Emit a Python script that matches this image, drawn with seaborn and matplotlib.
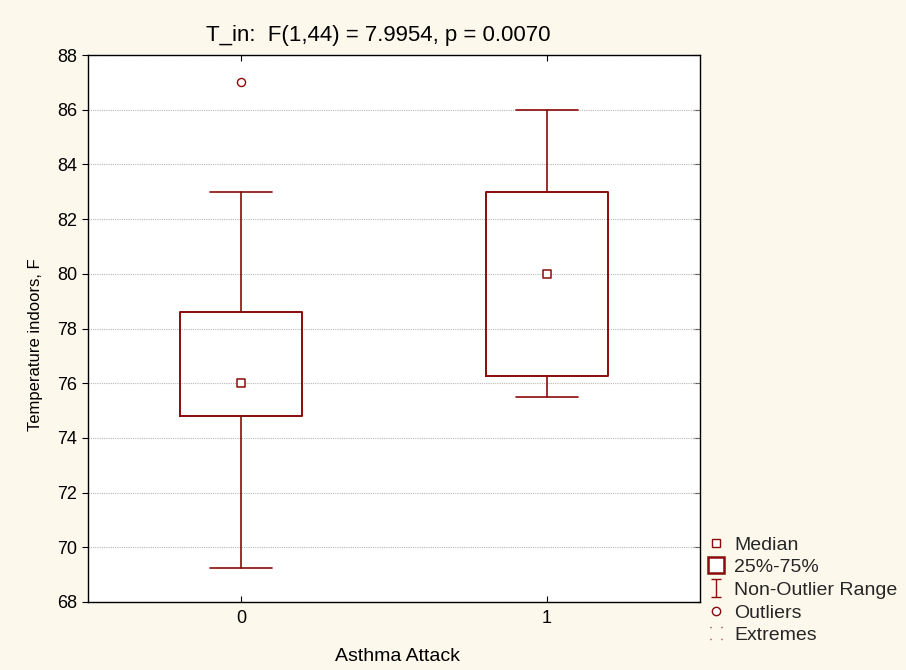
import matplotlib
matplotlib.use("Agg")
import matplotlib.pyplot as plt
import numpy as np
import pandas as pd
import seaborn as sns
from matplotlib.lines import Line2D
from matplotlib.path import Path

# Box-plot summary of indoor temperature by asthma attack group
groups = ["0", "1"]
medians = [76.0, 80.0]
q1 = [74.8, 76.25]
q3 = [78.6, 83.0]
whisker_low = [69.25, 75.5]
whisker_high = [83.0, 86.0]
outlier_group = ["0"]
outlier_values = [87.0]

title = "T_in:  F(1,44) = 7.9954, p = 0.0070"
x_label = "Asthma Attack"
y_label = "Temperature indoors, F"
y_ticks = [68, 70, 72, 74, 76, 78, 80, 82, 84, 86, 88]
legend_labels = ["Median", "25%-75%", "Non-Outlier Range", "Outliers", "Extremes"]

sns.set_theme(style="white")
plt.rcParams["font.family"] = ["Liberation Sans", "DejaVu Sans"]

BG = "#FDF8EC"
RED = "#8B0A0A"

fig = plt.figure(figsize=(9.06, 6.70), dpi=100, facecolor=BG)
W, H = 906, 670
ax = fig.add_axes([88 / W, 1 - 602 / H, (700 - 88) / W, (602 - 55) / H])
ax.set_facecolor("white")

pos = {g: i for i, g in enumerate(groups)}
stats = [
    dict(med=m, q1=a, q3=b, whislo=lo, whishi=hi, fliers=[], label=g)
    for g, m, a, b, lo, hi in zip(groups, medians, q1, q3, whisker_low, whisker_high)
]
ax.bxp(
    stats,
    positions=[pos[g] for g in groups],
    widths=0.4,
    capwidths=0.2,
    showfliers=False,
    manage_ticks=False,
    boxprops=dict(color=RED, linewidth=1.4),
    whiskerprops=dict(color=RED, linewidth=1.2),
    capprops=dict(color=RED, linewidth=1.2),
    medianprops=dict(linestyle="none"),
)

# Median markers
med_df = pd.DataFrame({"pos": [pos[g] for g in groups], "median": medians})
sns.scatterplot(data=med_df, x="pos", y="median", marker="s", s=34,
                facecolor="white", edgecolor=RED, linewidth=1.1, ax=ax, zorder=5)

# Outliers
out_df = pd.DataFrame({"pos": [pos[g] for g in outlier_group], "value": outlier_values})
sns.scatterplot(data=out_df, x="pos", y="value", marker="o", s=34,
                facecolor="white", edgecolor=RED, linewidth=1.0, ax=ax, zorder=5)

ax.set_xlim(-0.5, 1.5)
ax.set_ylim(68, 88)
ax.set_xticks([pos[g] for g in groups])
ax.set_xticklabels(groups)
ax.set_yticks(y_ticks)
ax.set_yticklabels([str(t) for t in y_ticks])

ax.yaxis.grid(True, color="#B8B8B8", linestyle=(0, (1, 1)), linewidth=0.8)
ax.xaxis.grid(False)
ax.set_axisbelow(True)
for sp in ax.spines.values():
    sp.set_color("black")
    sp.set_linewidth(1.0)

ax.tick_params(axis="y", left=True, right=False, direction="out", length=4,
               width=0.8, colors="black", labelsize=13, pad=4)
ax.tick_params(axis="x", bottom=True, top=True, direction="in", length=4,
               width=0.8, colors="black", labelsize=13, pad=6)
right = ax.secondary_yaxis("right")
right.set_yticks(y_ticks)
right.tick_params(direction="in", length=4, width=0.8, labelright=False)
right.spines["right"].set_visible(False)

ax.set_title(title, fontsize=16, pad=10, color="black", x=0.475)
ax.set_xlabel(x_label, fontsize=14, labelpad=15, color="black", x=0.505)
ax.set_ylabel(y_label, fontsize=12, labelpad=10, color="black", y=0.47)

# Legend symbols
ibeam = Path([(-0.5, 1), (0.5, 1), (0, 1), (0, -1), (-0.5, -1), (0.5, -1)],
             [Path.MOVETO, Path.LINETO, Path.MOVETO, Path.LINETO, Path.MOVETO, Path.LINETO])
dots = Path([(-1, 1), (-0.85, 1), (1, 1), (0.85, 1), (-1, -1), (-0.85, -1), (1, -1), (0.85, -1)],
            [Path.MOVETO, Path.LINETO] * 4)
handles = [
    Line2D([], [], linestyle="none", marker="s", markersize=6, markerfacecolor="white",
           markeredgecolor=RED, markeredgewidth=1.0),
    Line2D([], [], linestyle="none", marker="s", markersize=12, markerfacecolor="white",
           markeredgecolor=RED, markeredgewidth=1.8),
    Line2D([], [], linestyle="none", marker=ibeam, markersize=13, markerfacecolor="none",
           markeredgecolor=RED, markeredgewidth=1.0),
    Line2D([], [], linestyle="none", marker="o", markersize=6, markerfacecolor="white",
           markeredgecolor=RED, markeredgewidth=1.0),
    Line2D([], [], linestyle="none", marker=dots, markersize=8, markerfacecolor="none",
           markeredgecolor=RED, markeredgewidth=1.0),
]
fig.legend(handles, legend_labels, loc="upper left", bbox_to_anchor=(706 / W, 1 - 536 / H),
           frameon=False, fontsize=14, handlelength=1.0, handletextpad=0.45,
           labelspacing=0.26, borderpad=0, borderaxespad=0)

fig.savefig("out.png", dpi=100, facecolor=BG)
